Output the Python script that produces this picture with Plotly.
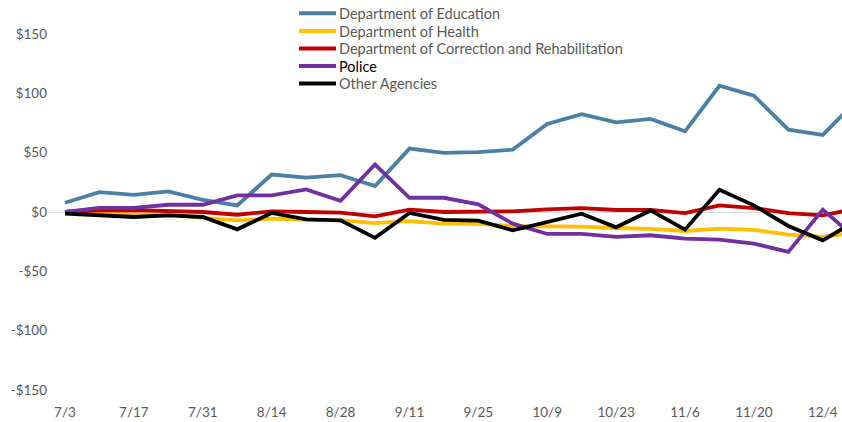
import plotly.graph_objects as go
import pandas as pd

dates = pd.date_range("2017-07-03", periods=24, freq="7D")

education = [7.8, 16.7, 14.5, 17.3, 10.3, 5.5, 31.6, 29.0, 31.0, 21.8, 53.4, 49.8, 50.4, 52.6,
             74.2, 82.4, 75.6, 78.4, 68.0, 106.4, 98.0, 69.4, 65.0, 94.5]
health = [0.0, -1.0, -2.0, -2.0, -5.0, -7.0, -5.6, -6.5, -7.0, -9.3, -7.7, -9.8, -10.0, -11.8,
          -11.8, -12.4, -13.5, -14.3, -16.0, -14.0, -15.0, -19.0, -21.0, -17.0]
correction = [0.0, 1.3, 1.5, 1.0, 0.0, -2.3, 0.5, 0.0, -0.5, -3.7, 2.0, 0.0, 0.0, 0.5,
              2.2, 3.3, 1.7, 1.7, -0.9, 5.6, 3.3, -0.9, -2.8, 3.0]
police = [0.0, 3.4, 3.4, 6.1, 6.1, 14.0, 14.0, 19.0, 9.5, 40.0, 12.0, 12.0, 6.4, -9.8,
          -18.5, -18.5, -21.0, -19.6, -22.4, -23.3, -26.6, -33.6, 2.0, -23.0]
other = [-1.4, -2.8, -4.2, -2.8, -4.2, -14.6, -0.8, -6.2, -7.0, -21.8, -0.8, -6.7, -7.3, -15.4,
         -8.4, -1.4, -12.9, 1.3, -14.9, 18.7, 5.6, -11.8, -23.9, -6.8]

names = ["Department of Education", "Department of Health",
         "Department of Correction and Rehabilitation", "Police", "Other Agencies"]
values = [education, health, correction, police, other]
colors = ["#4A80A4", "#FFC000", "#C00000", "#7030A0", "#000000"]
label_colors = ["#595959", "#595959", "#595959", "#000000", "#595959"]

y_ticks = [-150, -100, -50, 0, 50, 100, 150]
y_labels = ["-$150", "-$100", "-$50", "$0", "$50", "$100", "$150"]

font = "Lato, Open Sans, sans-serif"

fig = go.Figure()
for name, vals, color in zip(names, values, colors):
    fig.add_trace(go.Scatter(x=dates, y=vals, name=name, mode="lines",
                             line=dict(color=color, width=3.8), showlegend=False))

# manual legend (Excel-style compact rows)
W, H, L, B = 794.0, 356.0, 48.0, 390.0
rows_px = [13.3, 31.0, 48.5, 66.0, 83.5]
for name, color, lc, ry in zip(names, colors, label_colors, rows_px):
    yp = (B - ry) / H
    fig.add_shape(type="line", xref="paper", yref="paper",
                  x0=(299 - L) / W, x1=(336 - L) / W, y0=yp, y1=yp,
                  line=dict(color=color, width=4))
    fig.add_annotation(xref="paper", yref="paper", x=(337 - L) / W, y=yp,
                       xanchor="left", yanchor="middle", text=name, showarrow=False,
                       font=dict(family=font, size=14.5, color=lc))

start = pd.Timestamp("2017-07-03")
x0 = start - pd.Timedelta(days=3.45)
x1 = start + pd.Timedelta(days=157.9)

fig.update_layout(
    width=842, height=422,
    margin=dict(l=48, r=0, t=34, b=32),
    paper_bgcolor="white", plot_bgcolor="white",
    font=dict(family=font, size=13, color="#595959"),
    showlegend=False,
    xaxis=dict(type="date", range=[x0, x1], tick0=start, dtick=14 * 86400000,
               tickformat="%-m/%-d", showgrid=False, zeroline=False, showline=False,
               ticks="outside", ticklen=10, tickcolor="rgba(0,0,0,0)",
               tickfont=dict(size=13.5, color="#595959")),
    yaxis=dict(range=[-150, 150], tickvals=y_ticks, ticktext=y_labels,
               showgrid=False, zeroline=True, zerolinecolor="#D9D9D9", zerolinewidth=1,
               showline=False, tickfont=dict(size=13.5, color="#595959"), ticks="",
               automargin=False),
)

fig.write_html("out.html", config={"displayModeBar": False},
               post_script="document.body.style.margin='0';")
